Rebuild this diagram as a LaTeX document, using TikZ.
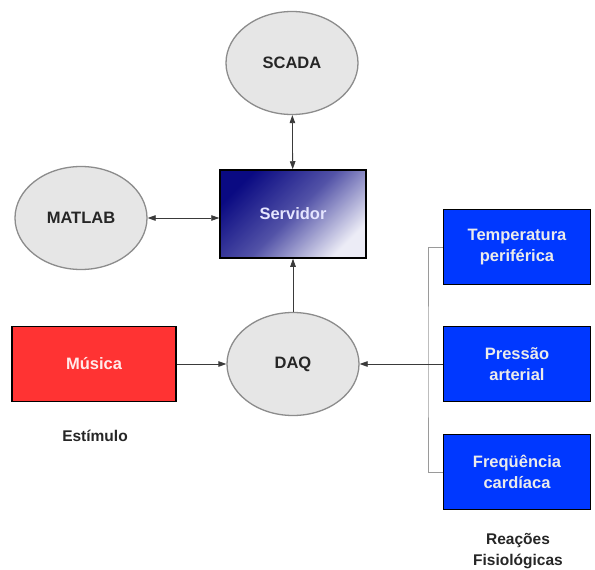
\documentclass[tikz,border=0pt]{standalone}
\usepackage{fontspec}
\setmainfont{Liberation Sans}
\usetikzlibrary{shapes.geometric,arrows.meta}
\definecolor{ellfill}{HTML}{E6E6E6}
\definecolor{elldraw}{HTML}{8C8C8C}
\definecolor{navy}{HTML}{0A0A82}
\definecolor{lightlav}{HTML}{ECECF6}
\definecolor{musred}{HTML}{FF3333}
\definecolor{sigblue}{HTML}{0038FF}
\definecolor{wire}{HTML}{3A3A3A}
\definecolor{bracketgray}{HTML}{9A9A9A}
\tikzset{
  lbl/.style={font=\bfseries\fontsize{16.5}{20.5}\selectfont, align=center},
  ellnode/.style={ellipse, draw=elldraw, line width=1.3pt, fill=ellfill, minimum width=132pt, minimum height=103pt, inner sep=0pt, lbl, text=black!85},
  sigbox/.style={rectangle, draw=black, line width=1.5pt, fill=sigblue, minimum width=147pt, minimum height=75pt, inner sep=0pt, lbl, text=white!92!black},
  conn/.style={draw=wire, line width=0.8pt},
  tip/.style={-{Triangle[length=8pt,width=5.5pt]}},
  bitip/.style={{Triangle[length=8pt,width=5.5pt]}-{Triangle[length=8pt,width=5.5pt]}},
  caption/.style={font=\bfseries\fontsize{15.5}{20.5}\selectfont, align=center, text=black!85}
}
\begin{document}
\begin{tikzpicture}[x=1pt,y=-1pt]
\useasboundingbox[fill=white] (0,0) rectangle (595,570);

\node[ellnode] (scada) at (292,63) {SCADA};
\node[ellnode] (matlab) at (81,218) {MATLAB};
\node[ellnode] (daq) at (293,364) {DAQ};

\node[rectangle, draw=black, line width=1.5pt, minimum width=146pt, minimum height=88pt, inner sep=0pt,
      top color=navy, bottom color=lightlav, middle color=navy!68!lightlav, shading angle=45,
      lbl, text=white!90!blue] (serv) at (293,214) {Servidor};

\node[rectangle, draw=black, line width=1.5pt, fill=musred, minimum width=164pt, minimum height=75pt, inner sep=0pt,
      lbl, text=white!92!red] (musica) at (94,364) {Música};

\node[sigbox] (temp) at (517,247) {Temperatura\\periférica};
\node[sigbox] (pres) at (517,364) {Pressão\\arterial};
\node[sigbox] (freq) at (517,472) {Freqüência\\cardíaca};

\node[caption] (estim) at (95,436) {Estímulo};
\node[caption] (reac) at (518,551) {Reações\\Fisiológicas};

% connectors
\draw[conn,bitip] (scada) -- (serv);
\draw[conn,bitip] (matlab.east) -- (matlab.east -| serv.west);
\draw[conn,tip] (daq) -- (serv);
\draw[conn,tip] (musica) -- (daq);
\coordinate (brk) at (428,364);
\draw[draw=bracketgray, line width=0.8pt] (temp.west) -| (brk) |- (freq.west);
\draw[conn,tip] (pres.west) -- (daq);
\end{tikzpicture}
\end{document}
